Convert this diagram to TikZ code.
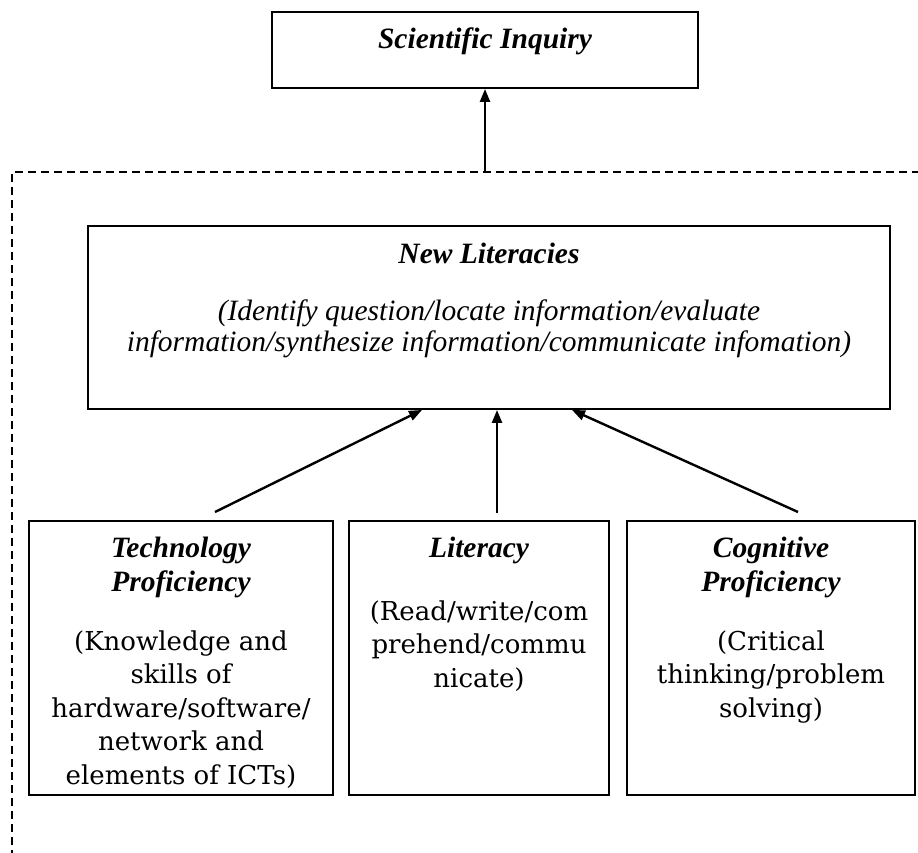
\documentclass[tikz,border=0pt]{standalone}
\usepackage{fontspec}
\setmainfont{Liberation Serif}
\newfontfamily\bodyfont{DejaVu Serif}
\usetikzlibrary{arrows.meta}
\begin{document}
\begin{tikzpicture}[x=1pt,y=-1pt,
  box/.style={draw, line width=1.9pt, inner sep=0pt},
  ttl/.style={anchor=base, inner sep=0pt, font=\fontsize{29.5}{34}\selectfont\bfseries\itshape},
  itl/.style={anchor=base, inner sep=0pt, font=\fontsize{29.5}{34}\selectfont\itshape},
  bdy/.style={anchor=base, inner sep=0pt, font=\bodyfont\fontsize{26}{31}\selectfont},
  arr/.style={line width=2.4pt, -{Triangle[length=13pt,width=10pt]}},
  framestyle/.style={line width=1.5pt, dash pattern=on 8pt off 5pt}]
\useasboundingbox (0,0) rectangle (918,852);

% boxes
\node[box, minimum width=426pt, minimum height=76pt] (sci) at (485,50) {};
\node[box, minimum width=802pt, minimum height=183pt] (nl) at (489,317.5) {};
\node[box, minimum width=304pt, minimum height=274pt] (tech) at (181,658) {};
\node[box, minimum width=260pt, minimum height=274pt] (lit) at (479,658) {};
\node[box, minimum width=288pt, minimum height=274pt] (cog) at (771,658) {};

% texts
\node[ttl] (scit) at (485,48) {Scientific Inquiry};
\node[ttl] (nlt) at (489,263) {New Literacies};
\node[itl] (nl1) at (489,320) {(Identify question/locate information/evaluate};
\node[itl] (nl2) at (489,351) {information/synthesize information/communicate infomation)};

\node[ttl] (tt1) at (181,557) {Technology};
\node[ttl] (tt2) at (181,591) {Proficiency};
\node[bdy] (tb1) at (181,650) {(Knowledge and};
\node[bdy] (tb2) at (181,683.5) {skills of};
\node[bdy] (tb3) at (181,717) {hardware/software/};
\node[bdy] (tb4) at (181,750.5) {network and};
\node[bdy] (tb5) at (181,784) {elements of ICTs)};

\node[ttl] (lt1) at (479,557) {Literacy};
\node[bdy] (lb1) at (479,620) {(Read/write/com};
\node[bdy] (lb2) at (479,653.5) {prehend/commu};
\node[bdy] (lb3) at (479,687) {nicate)};

\node[ttl] (ct1) at (771,557) {Cognitive};
\node[ttl] (ct2) at (771,591) {Proficiency};
\node[bdy] (cb1) at (771,650) {(Critical};
\node[bdy] (cb2) at (771,683.5) {thinking/problem};
\node[bdy] (cb3) at (771,717) {solving)};

% dashed frame
\coordinate (fr) at (485,172);
\coordinate (fc) at (12,172);
\coordinate (fe) at (920,172);
\coordinate (fb) at (12,854);
\draw[framestyle] (fe) -- (fc) -- (fb);

% connectors
\draw[arr] (fr) -- (sci);
\coordinate (s1) at (215,512);
\coordinate (s2) at (497,513);
\coordinate (s3) at (798,512);
\coordinate (e1) at (422,409);
\coordinate (e2) at (497,409);
\coordinate (e3) at (572,409);
\draw[arr] (s1) -- (e1 |- nl.south);
\draw[arr] (s2) -- (e2 |- nl.south);
\draw[arr] (s3) -- (e3 |- nl.south);
\end{tikzpicture}
\end{document}
